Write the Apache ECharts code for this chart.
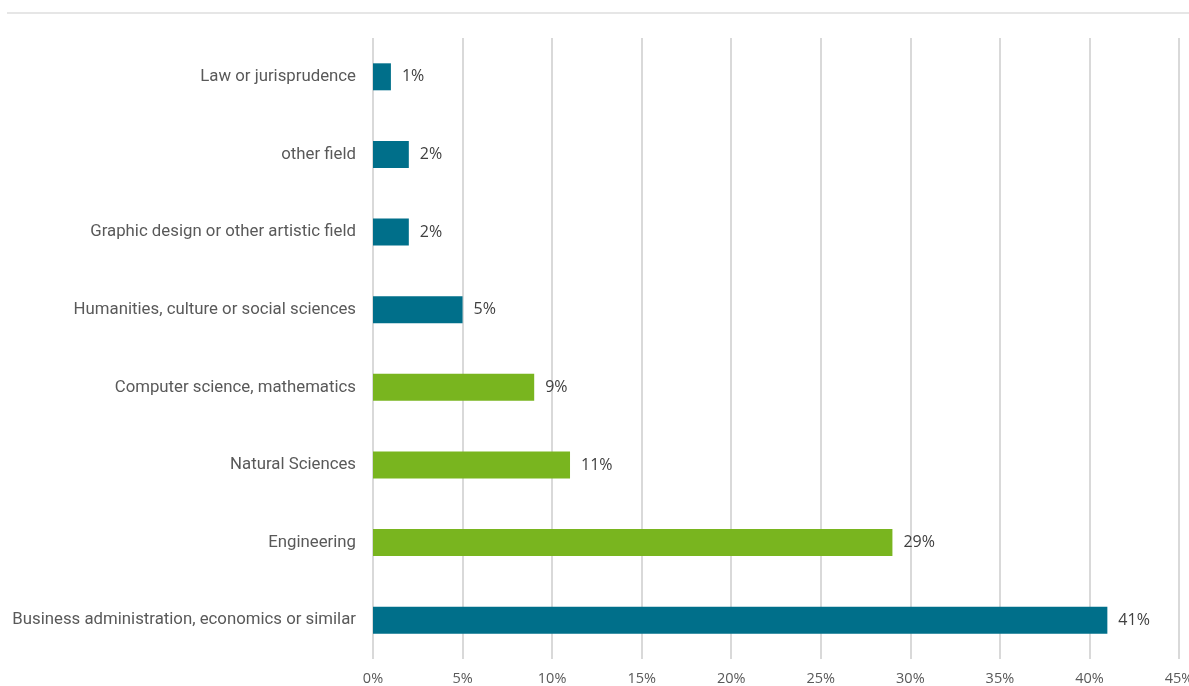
<!DOCTYPE html>
<html>
<head>
<meta charset="utf-8">
<script src="https://cdn.jsdelivr.net/npm/echarts@6/dist/echarts.min.js"></script>
<style>html,body{margin:0;padding:0;background:#fff;}#c{width:1189px;height:686px;}</style>
</head>
<body>
<div id="c"></div>
<script>
// Bottom-to-top order (ECharts category axis starts at bottom)
const categories = [
  'Business administration, economics or similar',
  'Engineering',
  'Natural Sciences',
  'Computer science, mathematics',
  'Humanities, culture or social sciences',
  'Graphic design or other artistic field',
  'other field',
  'Law or jurisprudence'
];
const values = [41, 29, 11, 9, 5, 2, 2, 1];
const highlighted = ['Engineering', 'Natural Sciences', 'Computer science, mathematics'];
const xTicks = [0, 5, 10, 15, 20, 25, 30, 35, 40, 45];

const TEAL = '#006f8a';
const GREEN = '#79b51f';

const chart = echarts.init(document.getElementById('c'), null, {renderer: 'canvas'});
chart.setOption({
  animation: false,
  backgroundColor: '#ffffff',
  graphic: [{
    type: 'line',
    shape: {x1: 7, y1: 13, x2: 1189, y2: 13},
    style: {stroke: '#e6e6e6', lineWidth: 2}
  }],
  grid: {left: 373, right: 10, top: 38, bottom: 27, containLabel: false, outerBoundsMode: 'none'},
  xAxis: {
    type: 'value',
    min: xTicks[0],
    max: xTicks[xTicks.length - 1],
    interval: 5,
    axisLine: {show: false},
    axisTick: {show: false},
    splitLine: {show: true, lineStyle: {color: '#d9d9d9', width: 2}},
    axisLabel: {
      formatter: v => v + '%',
      fontFamily: 'Open Sans',
      fontSize: 14.5,
      color: '#595959',
      margin: 12
    }
  },
  yAxis: {
    type: 'category',
    data: categories,
    axisLine: {show: false},
    axisTick: {show: false},
    axisLabel: {
      fontFamily: 'Roboto',
      fontSize: 16.8,
      color: '#595959',
      margin: 17
    }
  },
  series: [{
    type: 'bar',
    barWidth: 27,
    data: values.map((v, i) => ({
      value: v,
      itemStyle: {color: highlighted.includes(categories[i]) ? GREEN : TEAL}
    })),
    label: {
      show: true,
      position: 'right',
      distance: 11,
      formatter: p => p.value + '%',
      fontFamily: 'Open Sans',
      fontSize: 16,
      color: '#404040'
    }
  }]
});
</script>
</body>
</html>
